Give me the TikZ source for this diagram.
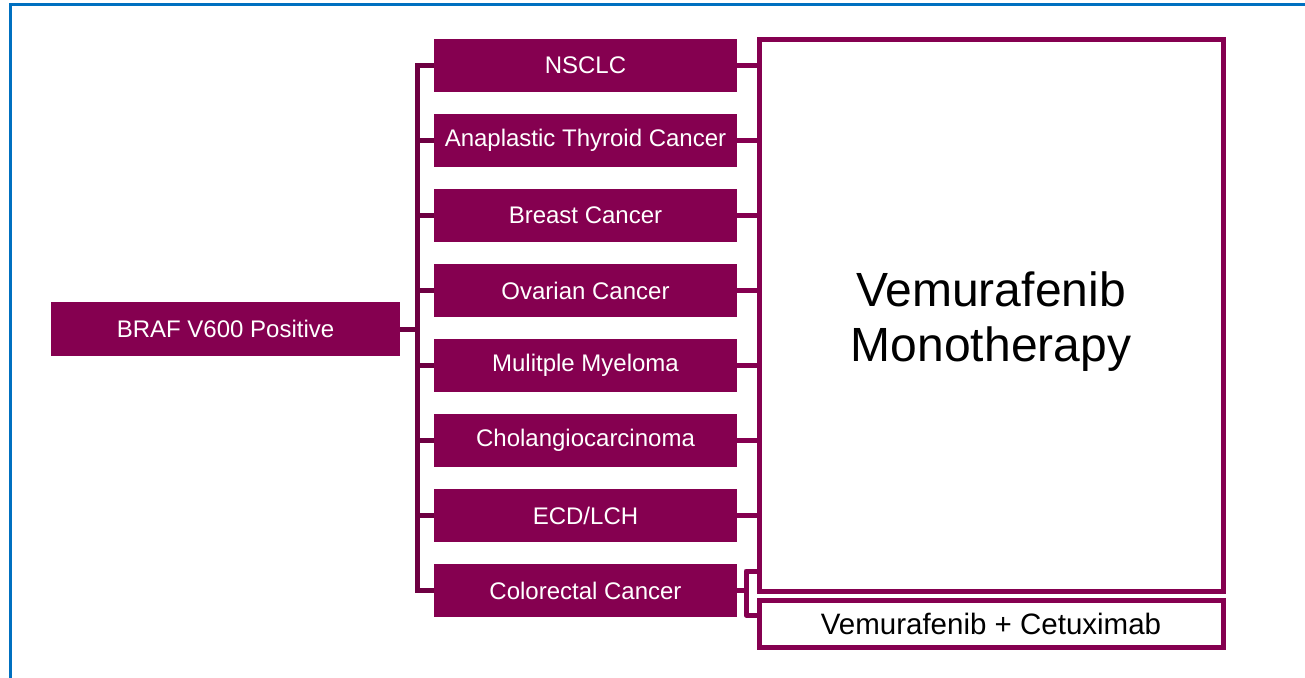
\documentclass[tikz,border=0pt]{standalone}
\usepackage{fontspec}
\setmainfont{Liberation Sans}
\definecolor{mag}{HTML}{850050}
\definecolor{magdark}{HTML}{6E0042}
\definecolor{frameblue}{HTML}{0070C0}
\tikzset{
  dbox/.style={rectangle, fill=mag, text=white, inner sep=0pt, minimum width=303pt, minimum height=53pt, font=\fontsize{24}{28}\selectfont},
  obox/.style={rectangle, draw=mag, line width=5pt, fill=white, inner sep=0pt, minimum width=464pt, align=center},
  lconn/.style={draw=magdark, line width=5pt},
  rconn/.style={draw=mag, line width=5pt},
}
\begin{document}
\begin{tikzpicture}[x=1pt,y=-1pt]
\useasboundingbox (0,0) rectangle (1305,677);
\clip (0,0) rectangle (1305,677);
\draw[frameblue, line width=3pt] (10,690) -- (10,5) -- (1320,5);

\node[dbox, minimum width=349pt, minimum height=54pt] (braf) at (225.5,329) {BRAF V600 Positive};

\node[dbox] (d1) at (585.5,65.5) {NSCLC};
\node[dbox] (d2) at (585.5,140.5) {Anaplastic Thyroid Cancer};
\node[dbox] (d3) at (585.5,215.5) {Breast Cancer};
\node[dbox] (d4) at (585.5,290.5) {Ovarian Cancer};
\node[dbox] (d5) at (585.5,365.5) {Mulitple Myeloma};
\node[dbox] (d6) at (585.5,440.5) {Cholangiocarcinoma};
\node[dbox] (d7) at (585.5,515.5) {ECD/LCH};
\node[dbox] (d8) at (585.5,590.5) {Colorectal Cancer};

\node[obox, minimum height=551pt] (mono) at (991,315.5) {};
\node[align=center, inner sep=0pt, font=\fontsize{48}{55}\selectfont] (monotxt) at (991,322) {Vemurafenib\\Monotherapy};
\node[obox, minimum height=47pt, font=\fontsize{29.5}{34}\selectfont] (combo) at (991,623.5) {Vemurafenib + Cetuximab};

% left bus
\coordinate (lb) at (417,0);
\draw[lconn] (braf.east) -- (lb |- braf.east);
\draw[lconn] (d1.west) -- (lb |- d1.west) -- (lb |- d8.west) -- (d8.west);
\foreach \i in {2,...,7} {
  \draw[lconn] (d\i.west) -- (lb |- d\i.west);
}
% right connectors
\foreach \i in {1,...,7} {
  \draw[rconn] (d\i.east) -- (mono.west |- d\i.east);
}
\coordinate (rb) at (746,0);
\coordinate (rt) at (746,571);
\coordinate (rbot) at (746,615);
\draw[rconn] (d8.east) -- (rb |- d8.east);
\draw[rconn, line join=round] (mono.west |- rt) -- (rt) -- (rbot) -- (combo.west |- rbot);
\end{tikzpicture}
\end{document}
